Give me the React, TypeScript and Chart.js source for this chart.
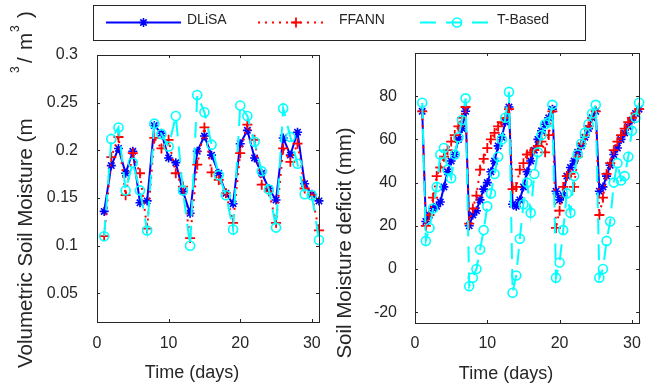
import React, { useEffect, useRef } from 'react';
import { Chart, registerables } from 'chart.js';

Chart.register(...registerables);

const FONT = '"Liberation Sans", Arial, Helvetica, sans-serif';
const INK = '#262626';

const SERIES_NAMES = ['DLiSA', 'FFANN', 'T-Based'];

// ---- Left panel: volumetric soil moisture, daily ----
const DAYS = [1, 2, 3, 4, 5, 6, 7, 8, 9, 10, 11, 12, 13, 14, 15, 16, 17, 18, 19, 20, 21, 22, 23, 24, 25, 26, 27, 28, 29, 30, 31];
const SM_DLISA = [0.136, 0.184, 0.202, 0.176, 0.199, 0.145, 0.147, 0.226, 0.218, 0.192, 0.187, 0.157, 0.134, 0.199, 0.215, 0.195, 0.176, 0.155, 0.144, 0.207, 0.221, 0.192, 0.176, 0.160, 0.148, 0.213, 0.195, 0.219, 0.165, 0.154, 0.147];
const SM_FFANN = [0.110, 0.193, 0.214, 0.153, 0.197, 0.176, 0.118, 0.213, 0.202, 0.211, 0.176, 0.162, 0.108, 0.185, 0.224, 0.177, 0.169, 0.155, 0.124, 0.197, 0.227, 0.211, 0.164, 0.157, 0.124, 0.202, 0.188, 0.207, 0.160, 0.153, 0.116];
const SM_TBASED = [0.110, 0.212, 0.224, 0.158, 0.187, 0.158, 0.116, 0.228, 0.217, 0.204, 0.236, 0.158, 0.100, 0.258, 0.240, 0.206, 0.174, 0.153, 0.117, 0.247, 0.236, 0.209, 0.178, 0.159, 0.119, 0.244, 0.214, 0.186, 0.154, 0.153, 0.106];

// ---- Right panel: soil moisture deficit, half-daily ----
const TIME_HALF = [1, 1.5, 2, 2.5, 3, 3.5, 4, 4.5, 5, 5.5, 6, 6.5, 7, 7.5, 8, 8.5, 9, 9.5, 10, 10.5, 11, 11.5, 12, 12.5, 13, 13.5, 14, 14.5, 15, 15.5, 16, 16.5, 17, 17.5, 18, 18.5, 19, 19.5, 20, 20.5, 21, 21.5, 22, 22.5, 23, 23.5, 24, 24.5, 25, 25.5, 26, 26.5, 27, 27.5, 28, 28.5, 29, 29.5, 30, 30.5, 31];
const SMD_DLISA = [73, 22, 25, 28, 29, 31, 38, 45, 50, 53, 60, 65, 73,
  20, 25, 27, 32, 37, 40, 45, 50, 57, 61, 68, 75,
  30, 29, 32, 38, 45, 50, 55, 60, 64, 67, 70, 74,
  36, 32, 34, 43, 47, 50, 54, 57, 61, 65, 70, 73,
  36, 38, 43, 48, 53, 56, 60, 63, 66, 69, 72, 74];
const SMD_FFANN = [73, 20, 25, 33, 43, 47, 52, 55, 59, 62, 66, 70, 75,
  21, 28, 34, 46, 51, 56, 60, 63, 66, 68, 70, 74,
  37, 38, 46, 49, 53, 54, 55, 57, 59, 54, 62, 73,
  19, 27, 38, 43, 44, 38, 52, 58, 62, 66, 70, 73,
  25, 33, 44, 49, 55, 59, 62, 65, 68, 70, 72, 74];
const SMD_TBASED = [77, 13, 19, 28, 38, 53, 56, 46, 42, 53, 61, 69, 79,
  -8, -4, 0, 9, 18, 29, 35, 44, 52, 60, 70, 82,
  -11, -3, 14, 30, 40, 26, 44, 54, 62, 67, 68, 76,
  -4, 3, 18, 35, 26, 43, 53, 58, 63, 67, 72, 76,
  -4, 0, 13, 22, 40, 49, 41, 43, 52, 64, 70, 77];

const X_TICKS = [0, 10, 20, 30];
const Y_TICKS_LEFT = [0.05, 0.1, 0.15, 0.2, 0.25, 0.3];
const Y_TICKS_RIGHT = [-20, 0, 20, 40, 60, 80];

const STYLES = [
  { color: '#0000ff', dash: [] as number[], pointStyle: 'star', radius: 4.5, pointWidth: 1.6, order: 2 },
  { color: '#ff0000', dash: [2, 5], pointStyle: 'cross', radius: 5, pointWidth: 1.8, order: 1 },
  { color: '#00ffff', dash: [16, 10], pointStyle: 'circle', radius: 4.5, pointWidth: 1.6, order: 0 },
];

function makeDatasets(xs: number[], series: number[][]) {
  return series.map((ys, i) => ({
    label: SERIES_NAMES[i],
    data: xs.map((x, j) => ({ x, y: ys[j] })),
    borderColor: STYLES[i].color,
    borderWidth: 2,
    borderDash: STYLES[i].dash,
    pointStyle: STYLES[i].pointStyle,
    pointRadius: STYLES[i].radius,
    pointBorderColor: STYLES[i].color,
    pointBackgroundColor: 'rgba(0,0,0,0)',
    pointBorderWidth: STYLES[i].pointWidth,
    fill: false,
    tension: 0,
    clip: false,
    order: STYLES[i].order,
  }));
}

function drawMarker(ctx: CanvasRenderingContext2D, style: string, x: number, y: number, r: number, w: number, color: string) {
  ctx.save();
  ctx.strokeStyle = color;
  ctx.lineWidth = w;
  ctx.setLineDash([]);
  ctx.beginPath();
  if (style === 'circle') {
    ctx.arc(x, y, r, 0, Math.PI * 2);
  } else {
    const angles = style === 'star' ? [0, 45, 90, 135] : [0, 90];
    angles.forEach((a) => {
      const rad = (a * Math.PI) / 180;
      const dx = Math.cos(rad) * r;
      const dy = Math.sin(rad) * r;
      ctx.moveTo(x - dx, y - dy);
      ctx.lineTo(x + dx, y + dy);
    });
  }
  ctx.stroke();
  ctx.restore();
}

function drawFrame(chart: any) {
  const ctx: CanvasRenderingContext2D = chart.ctx;
  const { left, right, top, bottom } = chart.chartArea;
  const xs = chart.scales.x;
  const ys = chart.scales.y;
  const T = 3;
  ctx.save();
  ctx.strokeStyle = INK;
  ctx.lineWidth = 1;
  ctx.setLineDash([]);
  ctx.strokeRect(Math.round(left) + 0.5, Math.round(top) + 0.5, Math.round(right - left), Math.round(bottom - top));
  ctx.beginPath();
  xs.ticks.forEach((t: any) => {
    const px = Math.round(xs.getPixelForValue(t.value)) + 0.5;
    ctx.moveTo(px, bottom);
    ctx.lineTo(px, bottom - T);
    ctx.moveTo(px, top);
    ctx.lineTo(px, top + T);
  });
  ys.ticks.forEach((t: any) => {
    const py = Math.round(ys.getPixelForValue(t.value)) + 0.5;
    ctx.moveTo(left, py);
    ctx.lineTo(left + T, py);
    ctx.moveTo(right, py);
    ctx.lineTo(right - T, py);
  });
  ctx.stroke();
  ctx.restore();
}

function drawLegend(ctx: CanvasRenderingContext2D) {
  ctx.save();
  ctx.fillStyle = '#ffffff';
  ctx.fillRect(93, 5, 493, 36);
  ctx.strokeStyle = INK;
  ctx.lineWidth = 1;
  ctx.strokeRect(93.5, 5.5, 492, 35);
  const lineX0 = [106, 258, 420];
  const lineX1 = [181, 328, 495];
  const markX = [143.5, 296, 457];
  const textX = [187, 339, 497];
  const ly = 22.5;
  SERIES_NAMES.forEach((name, i) => {
    const st = STYLES[i];
    ctx.strokeStyle = st.color;
    ctx.lineWidth = 2;
    ctx.setLineDash(st.dash);
    ctx.beginPath();
    ctx.moveTo(lineX0[i], ly);
    ctx.lineTo(lineX1[i], ly);
    ctx.stroke();
    ctx.setLineDash([]);
    drawMarker(ctx, st.pointStyle, markX[i], ly, st.radius, st.pointWidth, st.color);
    ctx.fillStyle = INK;
    ctx.font = `14px ${FONT}`;
    ctx.textAlign = 'left';
    ctx.textBaseline = 'alphabetic';
    ctx.fillText(name, textX[i], 24);
  });
  ctx.restore();
}

function drawText(ctx: CanvasRenderingContext2D, text: string, x: number, y: number, size: number, align: CanvasTextAlign) {
  ctx.save();
  ctx.fillStyle = INK;
  ctx.font = `${size}px ${FONT}`;
  ctx.textAlign = align;
  ctx.textBaseline = 'alphabetic';
  ctx.fillText(text, x, y);
  ctx.restore();
}

function drawRotated(ctx: CanvasRenderingContext2D, x: number, y: number, parts: { t: string; at: number; size: number; raise: number; align?: CanvasTextAlign }[]) {
  ctx.save();
  ctx.translate(x, y);
  ctx.rotate(-Math.PI / 2);
  ctx.fillStyle = INK;
  ctx.textBaseline = 'alphabetic';
  parts.forEach((p) => {
    ctx.font = `${p.size}px ${FONT}`;
    ctx.textAlign = p.align || 'left';
    ctx.fillText(p.t, p.at, -p.raise);
  });
  ctx.restore();
}

function baseOptions(cfg: any) {
  return {
    responsive: false,
    animation: false,
    events: [],
    layout: { padding: cfg.padding },
    plugins: { legend: { display: false }, tooltip: { enabled: false }, title: { display: false } },
    scales: {
      x: {
        type: 'linear',
        position: 'bottom',
        min: 0,
        max: 31,
        grid: { display: false, drawTicks: false },
        border: { display: false },
        ticks: {
          padding: cfg.xTickPad,
          font: { size: 16, family: FONT },
          color: INK,
          autoSkip: false,
          maxRotation: 0,
          callback: (v: number) => String(v),
        },
        afterBuildTicks: (s: any) => {
          s.ticks = X_TICKS.map((v) => ({ value: v }));
        },
        afterFit: (s: any) => {
          s.height = cfg.xHeight;
        },
      },
      y: {
        type: 'linear',
        position: 'left',
        min: cfg.yMin,
        max: cfg.yMax,
        grid: { display: false, drawTicks: false },
        border: { display: false },
        ticks: {
          padding: cfg.yTickPad,
          font: { size: 16, family: FONT },
          color: INK,
          autoSkip: false,
          callback: cfg.yFmt,
        },
        afterBuildTicks: (s: any) => {
          s.ticks = cfg.yTicks.map((v: number) => ({ value: v }));
        },
        afterFit: (s: any) => {
          s.width = cfg.yWidth;
        },
      },
    },
  };
}

export default function App() {
  const leftRef = useRef<HTMLCanvasElement>(null);
  const rightRef = useRef<HTMLCanvasElement>(null);

  useEffect(() => {
    const leftChart = new Chart(leftRef.current as HTMLCanvasElement, {
      type: 'line',
      data: { datasets: makeDatasets(DAYS, [SM_DLISA, SM_FFANN, SM_TBASED]) as any },
      options: baseOptions({
        padding: { left: 0, top: 55, right: 333, bottom: 0 },
        xTickPad: 12,
        xHeight: 63,
        yMin: 0.02,
        yMax: 0.3,
        yTickPad: 19,
        yWidth: 97,
        yTicks: Y_TICKS_LEFT,
        yFmt: (v: number) => String(Number(v.toFixed(2))),
      }) as any,
      plugins: [
        {
          id: 'leftDecor',
          afterDraw(chart: any) {
            const ctx = chart.ctx;
            drawFrame(chart);
            drawLegend(ctx);
            drawText(ctx, 'Time (days)', 192, 378, 18, 'center');
            drawRotated(ctx, 32, 368, [
              { t: 'Volumetric Soil Moisture (m', at: 0, size: 20.5, raise: 0 },
              { t: '3', at: 295, size: 12, raise: 13 },
              { t: '/', at: 305, size: 20.5, raise: 0 },
              { t: 'm', at: 318, size: 20.5, raise: 0 },
              { t: '3', at: 336, size: 12, raise: 13 },
              { t: ')', at: 350, size: 20.5, raise: 0 },
            ]);
          },
        },
      ],
    });

    const rightChart = new Chart(rightRef.current as HTMLCanvasElement, {
      type: 'line',
      data: { datasets: makeDatasets(TIME_HALF, [SMD_DLISA, SMD_FFANN, SMD_TBASED]) as any },
      options: baseOptions({
        padding: { left: 0, top: 53, right: 2, bottom: 0 },
        xTickPad: 11,
        xHeight: 62,
        yMin: -25,
        yMax: 100,
        yTickPad: 18,
        yWidth: 85,
        yTicks: Y_TICKS_RIGHT,
        yFmt: (v: number) => String(v),
      }) as any,
      plugins: [
        {
          id: 'rightDecor',
          afterDraw(chart: any) {
            const ctx = chart.ctx;
            drawFrame(chart);
            drawText(ctx, 'Time (days)', 176, 379, 18, 'center');
            drawRotated(ctx, 21, 243, [{ t: 'Soil Moisture deficit (mm)', at: 0, size: 20.5, raise: 0, align: 'center' }]);
          },
        },
      ],
    });

    return () => {
      leftChart.destroy();
      rightChart.destroy();
    };
  }, []);

  return (
    <div style={{ position: 'absolute', left: 0, top: 0, width: 652, height: 385, background: '#ffffff', overflow: 'hidden' }}>
      <canvas ref={leftRef} width={652} height={385} style={{ position: 'absolute', left: 0, top: 0, width: 652, height: 385 }} />
      <canvas ref={rightRef} width={322} height={385} style={{ position: 'absolute', left: 330, top: 0, width: 322, height: 385 }} />
    </div>
  );
}
